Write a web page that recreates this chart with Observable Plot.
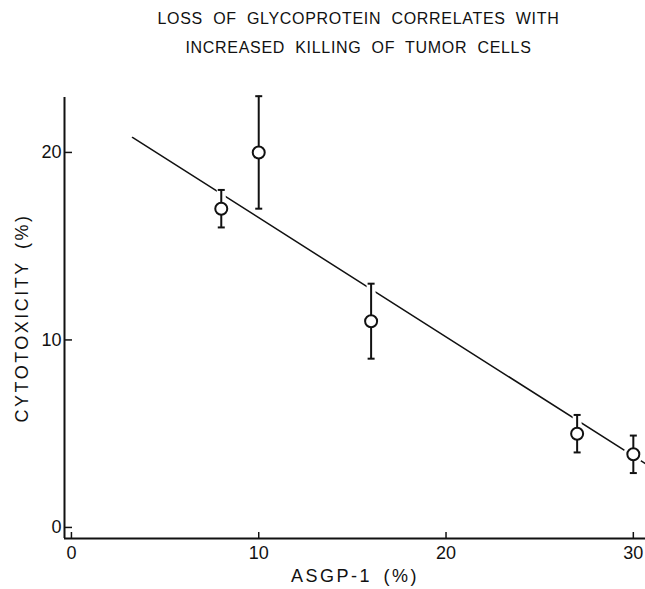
<!DOCTYPE html>
<html><head><meta charset="utf-8">
<script src="https://cdn.jsdelivr.net/npm/d3@7"></script>
<script src="https://cdn.jsdelivr.net/npm/@observablehq/plot@0.6"></script>
<style>
body{margin:0;background:#fff;}
#wrap{width:645px;height:589px;position:relative;overflow:hidden;font-family:"Liberation Sans",Arial,sans-serif;color:#111;}
#title{height:70px;position:relative;}
.t{position:absolute;left:36px;width:645px;text-align:center;font-size:16px;letter-spacing:0.7px;word-spacing:5px;line-height:1;white-space:nowrap;}
#chart svg g[aria-label="x-axis label"] text, #chart svg g[aria-label="y-axis label"] text{letter-spacing:2.5px;word-spacing:4px;}
</style>
</head><body>
<div id="wrap">
<div id="title">
<div class="t" style="top:11px">LOSS OF GLYCOPROTEIN CORRELATES WITH</div>
<div class="t" style="top:40px">INCREASED KILLING OF TUMOR CELLS</div>
</div>
<div id="chart"></div>
</div>
<script>
const asgp = [8, 10, 16, 27, 30];
const cytotox = [17, 20, 11, 5, 3.9];
const errLow = [16, 17, 9, 4, 2.9];
const errHigh = [18, 23, 13, 6, 4.9];
const fitX = [3.26, 30.65];
const fitY = [20.8, 3.4];
const xTicks = [0, 10, 20, 30];
const yTicks = [0, 10, 20];
const xDomain = [-0.37, 30.65];
const yDomain = [-0.59, 22.93];

const pts = asgp.map((x, i) => ({x, y: cytotox[i], lo: errLow[i], hi: errHigh[i]}));
const fit = fitX.map((x, i) => ({x, y: fitY[i]}));

const W = 645, H = 519, mT = 27, mB = 51, mL = 64, mR = 0;
const frameW = W - mL - mR, frameH = H - mT - mB;

const cap = {draw(ctx, size) { const w = Math.sqrt(size / Math.PI); ctx.moveTo(-w, 0); ctx.lineTo(w, 0); }};
const ink = "#111";

const chart = Plot.plot({
  width: W, height: H,
  marginTop: mT, marginBottom: mB, marginLeft: mL, marginRight: mR,
  x: {domain: xDomain},
  y: {domain: yDomain},
  style: {fontFamily: '"Liberation Sans", Arial, sans-serif', fontSize: "18px", color: ink, background: "#fff", overflow: "visible"},
  marks: [
    Plot.ruleX([xDomain[0]], {stroke: ink, strokeWidth: 2}),
    Plot.ruleY([yDomain[0]], {stroke: ink, strokeWidth: 2}),
    Plot.tickX(xTicks, {x: d => d, insetTop: frameH - 6, stroke: ink, strokeWidth: 1.5}),
    Plot.tickY(yTicks, {y: d => d, insetRight: frameW - 8, stroke: ink, strokeWidth: 1.5}),
    Plot.axisX(xTicks, {tickSize: 0, tickPadding: 8, fontSize: 18, label: "ASGP-1 (%)", labelAnchor: "center", labelArrow: "none", labelOffset: 43}),
    Plot.axisY(yTicks, {tickSize: 0, tickPadding: 3, fontSize: 18, label: "CYTOTOXICITY (%)", labelAnchor: "center", labelArrow: "none", labelOffset: 49}),
    Plot.line(fit, {x: "x", y: "y", stroke: ink, strokeWidth: 1.5}),
    Plot.ruleX(pts, {x: "x", y1: "lo", y2: "hi", stroke: "#fff", strokeWidth: 9}),
    Plot.dot(pts, {x: "x", y: "y", r: 6, fill: "#fff", stroke: "#fff", strokeWidth: 8}),
    Plot.ruleX(pts, {x: "x", y1: "lo", y2: "hi", stroke: ink, strokeWidth: 2}),
    Plot.dot(pts, {x: "x", y: "hi", symbol: cap, r: 3.5, stroke: ink, strokeWidth: 2}),
    Plot.dot(pts, {x: "x", y: "lo", symbol: cap, r: 3.5, stroke: ink, strokeWidth: 2}),
    Plot.dot(pts, {x: "x", y: "y", r: 6, fill: "#fff", stroke: ink, strokeWidth: 2})
  ]
});
document.getElementById("chart").appendChild(chart);
</script>
</body></html>
